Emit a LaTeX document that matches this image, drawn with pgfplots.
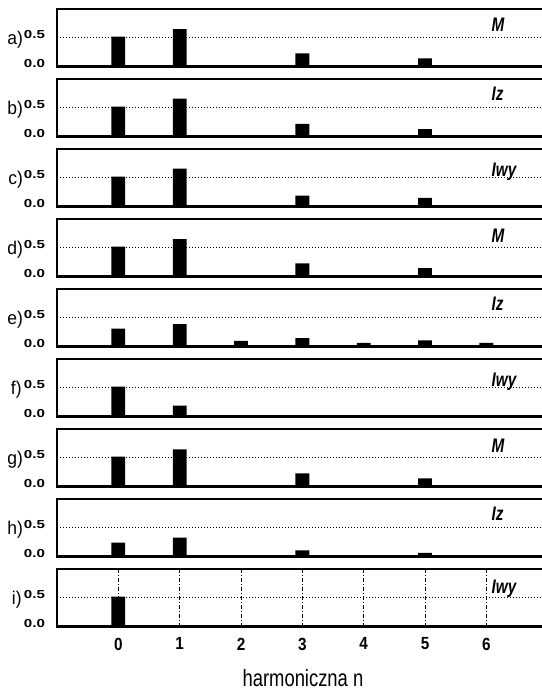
\documentclass[border=0pt]{standalone}
\usepackage{fontspec}
\setmainfont{Liberation Sans}[FakeStretch=0.78]
\newfontfamily\yfont{Liberation Sans}[FakeStretch=1.3]
\newfontfamily\xfont{Liberation Sans}[FakeStretch=0.87]
\newfontfamily\lfont{Liberation Sans}[FakeStretch=0.95]
\usepackage{pgfplots}
\usepackage{pgfplotstable}
\pgfplotsset{compat=1.18}

\pgfplotstableread{
n a    b    c    d     e     f    g     h     i
0 0.52 0.52 0.52 0.52  0.31  0.52 0.52  0.24  0.52
1 0.65 0.66 0.66 0.65  0.39  0.19 0.645 0.33  0
2 0.01 0.01 0.01 0.01  0.10  0.01 0.01  0.01  0
3 0.23 0.22 0.19 0.23  0.145 0.01 0.23  0.105 0
4 0.01 0.01 0.01 0.01  0.065 0.01 0.01  0.01  0
5 0.14 0.13 0.15 0.145 0.105 0.01 0.14  0.065 0
6 0.01 0.01 0.01 0.01  0.065 0.01 0.01  0.01  0
}\harm

\pgfplotsset{panel/.style={
  scale only axis, width=244pt, height=28.75pt, anchor=north west,
  xmin=-1, xmax=6.956, ymin=0, ymax=1,
  ytick={0,0.5}, yticklabels={0.0,0.5},
  xtick={0,1,2,3,4,5,6}, xticklabels={},
  major tick length=0pt,
  ymajorgrids, y grid style={black, line width=0.65pt, dash pattern=on 0.65pt off 0.85pt},
  axis line style={line width=1.2pt},
  yticklabel style={font=\yfont\bfseries\fontsize{5.8}{6}\selectfont, xshift=-2.5pt, yshift=1.6pt},
  ybar, bar width=0.225, bar shift=0pt, clip=false,
}}

\newcommand{\panel}[7]{%
\begin{axis}[panel, at={(0pt,-#1*35pt)}, #7]
\addplot[fill=black, draw=none] table[x=n, y=#2] {\harm};
\node[anchor=east, inner sep=0pt, font=\lfont\fontsize{9.2}{10}\selectfont] at ([xshift=-#6]rel axis cs:0,0.47) {#3)};
\node[anchor=base west, inner sep=0pt, font=\bfseries\itshape\fontsize{9.8}{10}\selectfont] at (axis cs:6.08,#5) {#4};
\end{axis}}

\begin{document}
\begin{tikzpicture}
\useasboundingbox (-28.5pt,4.5pt) rectangle (242pt,-340pt);
\panel{0}{a}{a}{M}{0.60}{16.8pt}{}
\panel{1}{b}{b}{Iz}{0.63}{16.8pt}{}
\panel{2}{c}{c}{Iwy}{0.53}{16.8pt}{}
\panel{3}{d}{d}{M}{0.60}{16.8pt}{}
\panel{4}{e}{e}{Iz}{0.63}{16.8pt}{}
\panel{5}{f}{f}{Iwy}{0.53}{17.5pt}{}
\panel{6}{g}{g}{M}{0.60}{16.8pt}{}
\panel{7}{h}{h}{Iz}{0.63}{16.8pt}{}
\panel{8}{i}{i}{Iwy}{0.58}{17.5pt}{xmajorgrids,
  x grid style={black, line width=0.5pt, dash pattern=on 2pt off 1pt on 0.5pt off 1pt},
  xticklabels={0,1,2,3,4,5,6},
  xticklabel style={font=\xfont\bfseries\fontsize{8.8}{9}\selectfont, yshift=-2.1pt},
  xlabel={harmoniczna n},
  xlabel style={font=\fontsize{11.8}{12}\selectfont, at={(axis description cs:0.504,0)}, anchor=center, yshift=-26pt}}
\end{tikzpicture}
\end{document}
